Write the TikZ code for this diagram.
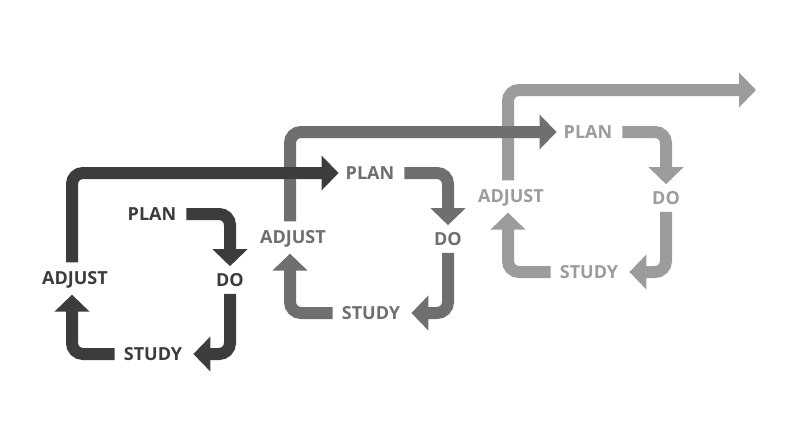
\documentclass[tikz,border=0pt]{standalone}
\usepackage{fontspec}
\setmainfont{Open Sans}
\usetikzlibrary{arrows.meta}
\definecolor{cycdark}{HTML}{3C3C3C}
\definecolor{cycmid}{HTML}{6F6F6F}
\definecolor{cyclight}{HTML}{9C9C9C}
\tikzset{
    stage/.style={inner sep=0pt,font=\fontsize{18}{20}\selectfont\bfseries},
    flow/.style={line width=12pt,rounded corners=11pt,
        -{Triangle[width=34pt,length=17pt]}}
}
\begin{document}
\begin{tikzpicture}[x=1pt,y=-1pt]
    \useasboundingbox[fill=white] (0,0) rectangle (809,434);
    % the three cycles, each one up and to the right
    \foreach \i/\col in {1/cycdark,2/cycmid,3/cyclight}{
        \begin{scope}[shift={({(\i-1)*218},{-(\i-1)*41})},text=\col]
            \node[stage] (plan\i) at (152,214) {PLAN};
            \node[stage] (do\i) at (230,280) {DO};
            \node[stage] (study\i) at (153,354) {STUDY};
            \node[stage] (adjust\i) at (75,280) {ADJUST};
        \end{scope}
    }
    \coordinate (out) at (763,90);
    % lighter cycles first, so the darker arrows lie on top
    \foreach \i/\j/\col in {3/out/cyclight,2/plan3/cycmid,1/plan2/cycdark}{
        \draw[flow,\col] ([xshift=10pt]plan\i.east) -| ([yshift=7pt]do\i.north);
        \draw[flow,\col] ([yshift=-7pt]do\i.south) |- ([xshift=11pt]study\i.east);
        \draw[flow,\col] ([xshift=-9pt]study\i.west) -| ([xshift=-3pt,yshift=-6pt]adjust\i.south);
        \draw[flow,\col] ([xshift=-3pt,yshift=9pt]adjust\i.north) |- ([xshift=-7pt]\j.west);
    }
\end{tikzpicture}
\end{document}
